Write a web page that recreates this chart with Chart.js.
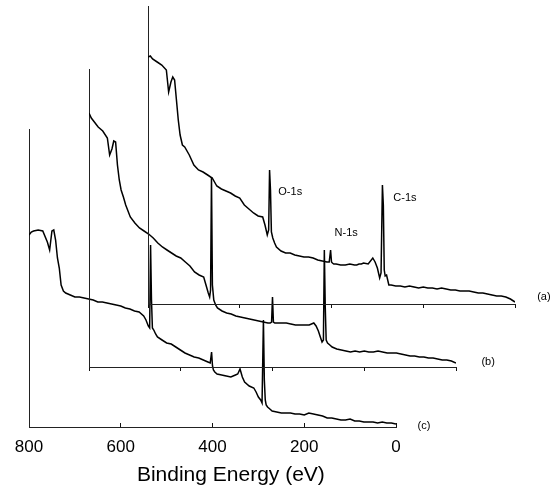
<!DOCTYPE html>
<html lang="en">
<head>
<meta charset="UTF-8" />
<title>XPS survey spectra (a)-(c)</title>
<script src="https://cdn.jsdelivr.net/npm/chart.js"></script>
<style>
  body { margin: 0; background: #fff; }
  .wrap { position: relative; width: 557px; height: 488px; }
  .wrap canvas { position: absolute; left: 0; top: 0; }
</style>
</head>
<body>
<div class="wrap">
  <canvas id="specC" width="557" height="488"></canvas>
  <canvas id="specB" width="557" height="488"></canvas>
  <canvas id="specA" width="557" height="488"></canvas>
</div>

<script>
// binding energy grid (eV), shared by the three spectra
const energy = [800,795,790,780,770,760,755,750,746,742,
  738,734,730,725,720,710,700,690,680,670,
  660,650,640,630,620,610,600,590,580,570,
  560,550,545,540,537,535,533,531,528,524,
  520,510,500,490,480,470,460,450,440,430,
  420,410,405,402,400,398,395,390,380,370,
  360,350,345,340,335,330,320,310,305,300,
  295,292,289,287,285,283,280,275,270,260,
  250,240,230,220,210,200,190,180,170,160,
  150,140,130,120,110,100,90,80,70,60,
  50,40,30,20,10,0];

// intensities (arb. units)
const traceA = [247,248,245,242,239,234,212,222,227,224,
  204,184,169,159,157,149,139,134,132,129,
  126,118,115,113,111,108,106,99,95,91,
  88,87,79,69,74,134,114,72,66,61,
  57,53,51,51,49,48,47,47,46,44,
  43,42,42,54,42,41,40,40,39,39,
  40,39,39,40,40,41,40,46,42,36,
  26,31,119,99,34,28,29,19,19,18,
  18,17,18,17,16,17,16,16,15,16,
  15,14,14,13,13,13,12,11,11,10,
  9,8,8,7,5,2];

const traceB = [254,249,246,240,236,229,212,218,226,225,
  202,187,177,170,162,150,144,139,136,133,
  129,124,120,117,114,111,109,105,101,95,
  92,90,82,74,70,77,190,82,67,62,
  59,56,54,53,51,50,49,48,47,46,
  45,44,44,45,70,45,44,44,44,44,
  43,42,42,42,42,42,42,44,41,36,
  29,25,27,117,60,27,24,22,20,18,
  17,16,15,16,15,16,15,15,16,15,
  14,14,14,13,12,11,11,10,10,9,
  9,8,7,7,6,4];

const traceC = [192,195,196,197,196,185,177,196,197,187,
  169,159,142,136,134,132,130,130,129,128,
  127,125,125,124,123,122,121,119,118,116,
  115,111,107,101,99,182,127,99,97,93,
  90,87,84,83,80,77,74,72,70,69,
  67,65,64,75,61,57,55,53,52,51,
  50,52,53,58,50,45,41,39,35,30,
  27,24,107,47,27,22,20,18,16,15,
  14,14,14,13,13,12,14,13,12,11,
  9,9,8,7,7,8,6,6,5,5,
  5,4,5,4,4,3];

const xTickStep = 200;

Chart.defaults.font.family = '"Liberation Sans", Arial, sans-serif';
Chart.defaults.color = '#000';

// text placed at data coordinates of a panel
const panelText = {
  id: 'panelText',
  afterDraw(chart, args, opts) {
    const { ctx } = chart;
    const x = chart.scales.x, y = chart.scales.y;
    ctx.save();
    ctx.fillStyle = '#000';
    ctx.textAlign = 'center';
    ctx.textBaseline = 'middle';
    (opts.items || []).forEach(t => {
      ctx.font = t.font;
      ctx.fillText(t.text, x.getPixelForValue(t.e), y.getPixelForValue(t.h));
    });
    ctx.restore();
  }
};

const small = '11px "Liberation Sans", Arial, sans-serif';

function spectrum(id, trace, pad, withLabels, items) {
  new Chart(document.getElementById(id), {
    type: 'line',
    data: {
      datasets: [{
        data: energy.map((e, i) => ({ x: e, y: trace[i] })),
        borderColor: '#000',
        borderWidth: 1.5,
        pointRadius: 0,
        tension: 0
      }]
    },
    plugins: [panelText],
    options: {
      responsive: false,
      animation: false,
      events: [],
      layout: { padding: pad },
      plugins: {
        legend: { display: false },
        tooltip: { enabled: false },
        panelText: { items: items }
      },
      scales: {
        x: {
          type: 'linear',
          min: 0,
          max: 800,
          reverse: true,
          afterFit: s => { s.height = withLabels ? 40 : 0; },
          ticks: {
            stepSize: xTickStep,
            display: withLabels,
            padding: 14,
            maxRotation: 0,
            color: '#000',
            font: { size: 17 }
          },
          grid: {
            drawOnChartArea: false,
            drawTicks: true,
            tickLength: withLabels ? -4 : 4,   // bottom panel: ticks point up
            color: '#111',
            lineWidth: 1
          },
          border: { color: '#222', width: 1 }
        },
        y: {
          min: 0,
          max: 298,
          afterFit: s => { s.width = 0; },
          ticks: { display: false },
          grid: { display: false },
          border: { display: true, color: '#222', width: 1 }
        }
      }
    }
  });
}

spectrum('specC', traceC, { left: 29, right: 161, top: 129, bottom: 21 }, true, [
  { text: '(c)', e: -61, h: 1, font: small },
  { text: 'Binding Energy (eV)', e: 360, h: -48, font: '21px "Liberation Sans", Arial, sans-serif' }
]);

spectrum('specB', traceB, { left: 89, right: 101, top: 69, bottom: 121 }, false, [
  { text: '(b)', e: -70, h: 5, font: small }
]);

spectrum('specA', traceA, { left: 148, right: 42, top: 6, bottom: 184 }, false, [
  { text: 'O-1s', e: 490, h: 112, font: small },
  { text: 'N-1s', e: 368, h: 71, font: small },
  { text: 'C-1s', e: 240, h: 106, font: small },
  { text: '(a)', e: -63, h: 7, font: small }
]);
</script>
</body>
</html>
